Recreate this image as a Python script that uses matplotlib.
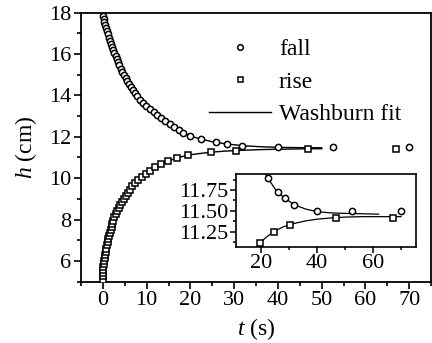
import numpy as np
import matplotlib.pyplot as plt
from matplotlib.ticker import MultipleLocator

plt.rcParams['font.family'] = ['Liberation Serif', 'DejaVu Serif']
plt.rcParams['mathtext.fontset'] = 'custom'
plt.rcParams['mathtext.it'] = 'Liberation Serif:italic'
plt.rcParams['mathtext.rm'] = 'Liberation Serif'

# falling level (cm) vs time (s)
fall_t = [0.0, 0.18, 0.36, 0.55, 0.75, 0.95, 1.16, 1.38, 1.60, 1.84, 2.09, 2.35,
          2.62, 2.90, 3.18, 3.48, 3.79, 4.11, 4.45, 4.80, 5.18, 5.57, 6.00, 6.43,
          6.89, 7.37, 7.89, 8.48, 9.11, 9.85, 10.69, 11.60, 12.46, 13.33, 14.27,
          15.27, 16.27, 17.3, 18.4, 19.8, 22.4, 25.8, 28.3, 31.7, 40.0, 52.6, 69.9]
fall_h = [17.85, 17.70, 17.55, 17.40, 17.25, 17.10, 16.95, 16.80, 16.65, 16.50,
          16.35, 16.20, 16.05, 15.90, 15.75, 15.60, 15.45, 15.30, 15.15, 15.00,
          14.85, 14.70, 14.55, 14.40, 14.25, 14.10, 13.95, 13.80, 13.65, 13.50,
          13.35, 13.20, 13.05, 12.90, 12.75, 12.60, 12.45, 12.32, 12.19, 12.05,
          11.89, 11.73, 11.65, 11.57, 11.50, 11.50, 11.50]

# rising level
rise_t = [0.0, 0.01, 0.03, 0.08, 0.13, 0.21, 0.30, 0.41, 0.54, 0.68, 0.82, 0.96,
          1.10, 1.24, 1.38, 1.54, 1.76, 1.97, 2.18, 2.39, 2.60, 2.95, 3.30, 3.65,
          4.01, 4.36, 4.79, 5.27, 5.76, 6.23, 6.71, 7.27, 8.13, 9.00, 9.86, 10.70,
          12.0, 13.3, 14.9, 16.9, 19.4, 24.6, 30.4, 46.9, 67.0]
rise_h = [5.10, 5.25, 5.40, 5.55, 5.70, 5.85, 6.00, 6.15, 6.30, 6.45, 6.60, 6.75,
          6.90, 7.05, 7.20, 7.35, 7.50, 7.65, 7.80, 7.95, 8.10, 8.25, 8.40, 8.55,
          8.70, 8.85, 9.00, 9.15, 9.30, 9.45, 9.60, 9.75, 9.90, 10.05, 10.20, 10.35,
          10.55, 10.69, 10.82, 10.98, 11.11, 11.25, 11.33, 11.42, 11.42]

# Washburn fits
fit_fall_t = [0, 1, 2, 3, 4, 5, 6, 7, 8, 9, 10, 12, 14, 16, 18, 20, 22, 25, 28,
              32, 36, 40, 45, 50, 56, 62]
fit_fall_h = [17.85, 17.06, 16.40, 15.85, 15.35, 14.92, 14.55, 14.22, 13.92,
              13.67, 13.47, 13.13, 12.79, 12.49, 12.24, 12.04, 11.91, 11.76,
              11.66, 11.57, 11.52, 11.49, 11.475, 11.47, 11.465, 11.46]
fit_rise_t = [0, 0.25, 0.5, 1, 1.5, 2, 3, 4, 5, 6, 7, 8, 9, 10, 12, 14, 16, 18,
              20, 22, 25, 28, 32, 36, 40, 45, 50, 56, 62, 70]
fit_rise_h = [5.10, 5.92, 6.26, 6.85, 7.32, 7.75, 8.27, 8.70, 9.04, 9.38, 9.69,
              9.88, 10.05, 10.22, 10.53, 10.75, 10.91, 11.04, 11.13, 11.19, 11.26,
              11.31, 11.35, 11.38, 11.40, 11.415, 11.425, 11.43, 11.43, 11.43]

fs = 16
fig = plt.figure(figsize=(4.32, 3.43), dpi=100)
ax = fig.add_axes([0.1875, 0.179, 0.8105, 0.784])

mk = dict(mfc='white', mec='black', mew=1.1, ls='none')
ax.plot(fall_t, fall_h, marker='o', ms=4.5, label='fall', zorder=3, **mk)
ax.plot(rise_t, rise_h, marker='s', ms=4, label='rise', zorder=3, **mk)
n_fall = sum(1 for t in fit_fall_t if t <= 50)
n_rise = sum(1 for t in fit_rise_t if t <= 50)
ax.plot(fit_fall_t[:n_fall], fit_fall_h[:n_fall], color='black', lw=1,
        label='Washburn fit', zorder=2)
ax.plot(fit_rise_t[:n_rise], fit_rise_h[:n_rise], color='black', lw=1, zorder=2)

ax.set_xlim(-5, 75)
ax.set_ylim(5, 18)
ax.xaxis.set_major_locator(MultipleLocator(10))
ax.xaxis.set_minor_locator(MultipleLocator(5))
ax.yaxis.set_major_locator(MultipleLocator(2))
ax.yaxis.set_minor_locator(MultipleLocator(1))
ax.tick_params(which='both', direction='out', labelsize=fs, width=1.2, pad=2)
ax.tick_params(which='major', length=5)
ax.tick_params(which='minor', length=3)
for s in ax.spines.values():
    s.set_linewidth(1.3)
ax.set_xlabel('$t$ (s)', fontsize=17, labelpad=4)
ax.set_ylabel('$h$ (cm)', fontsize=17, labelpad=7)

ax.legend(loc='upper right', bbox_to_anchor=(0.955, 0.955), frameon=False,
          fontsize=17, handlelength=2.6, handletextpad=0.35, labelspacing=0.45,
          borderaxespad=0.2, markerscale=0.9)

# inset
ins = fig.add_axes([0.546, 0.281, 0.416, 0.211])
ins.plot(fall_t, fall_h, marker='o', ms=4.5, zorder=3, **mk)
ins.plot(rise_t, rise_h, marker='s', ms=4, zorder=3, **mk)
ins.plot(fit_fall_t, fit_fall_h, color='black', lw=0.9, zorder=2)
ins.plot(fit_rise_t, fit_rise_h, color='black', lw=0.9, zorder=2)
ins.set_xlim(10.9, 75.2)
ins.set_ylim(11.07, 11.94)
ins.xaxis.set_major_locator(MultipleLocator(20))
ins.xaxis.set_minor_locator(MultipleLocator(10))
ins.yaxis.set_major_locator(MultipleLocator(0.25))
ins.yaxis.set_minor_locator(MultipleLocator(0.125))
ins.tick_params(which='both', direction='out', labelsize=fs, width=1.1, pad=1.5)
ins.tick_params(which='major', length=4)
ins.tick_params(which='minor', length=2.5)
for s in ins.spines.values():
    s.set_linewidth(1.2)

fig.savefig('out.png', dpi=100)
